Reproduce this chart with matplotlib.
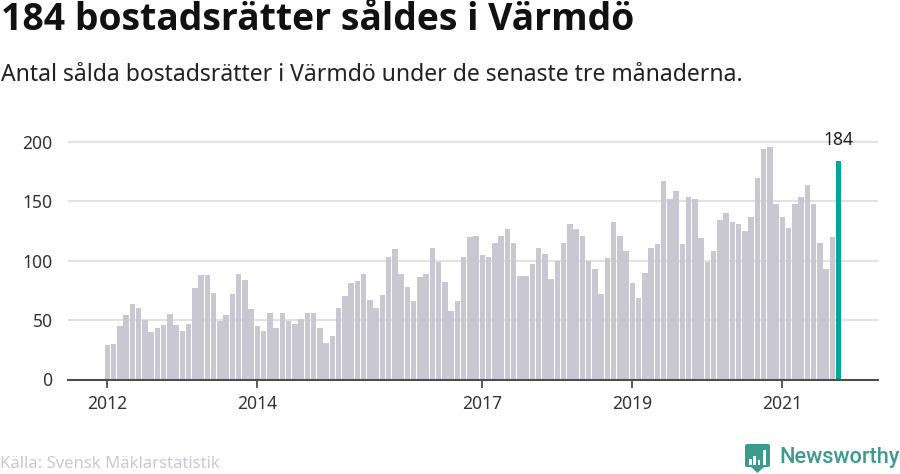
import matplotlib
matplotlib.use('Agg')
import matplotlib.pyplot as plt
from matplotlib.patches import Polygon, Rectangle, FancyBboxPatch

plt.rcParams['font.family'] = ['Noto Sans', 'DejaVu Sans']

# sålda bostadsrätter per månad, jan 2012 - okt 2021
values = [29, 30, 45, 54, 64, 60, 50, 40, 43, 46, 55, 46,
          41, 47, 77, 88, 88, 73, 49, 54, 72, 89, 84, 59,
          45, 41, 56, 43, 56, 49, 47, 51, 56, 56, 43, 31,
          37, 60, 70, 81, 83, 89, 67, 60, 71, 103, 110, 89,
          78, 66, 86, 89, 111, 99, 82, 58, 66, 103, 120, 121,
          105, 103, 115, 121, 127, 115, 87, 87, 97, 111, 106, 85,
          100, 115, 131, 127, 121, 100, 93, 72, 102, 133, 121, 108,
          81, 69, 90, 111, 114, 167, 152, 159, 114, 154, 152, 119,
          99, 108, 134, 140, 133, 131, 125, 137, 170, 194, 196, 148,
          137, 128, 148, 154, 164, 148, 115, 93, 120, 184]
tick_years = [2012, 2014, 2017, 2019, 2021]
yticks = [0, 50, 100, 150, 200]
first_year = 2012

W, H = 900, 474
GREY = '#c8c7d2'
TEAL = '#00a698'
DARK = '#333333'

fig = plt.figure(figsize=(W / 100, H / 100), dpi=100)
fig.patch.set_facecolor('white')

# axes placerad i pixlar: x 68-878, y-noll vid 379.5
ax = fig.add_axes([68 / W, (H - 379.5) / H, 810 / W, 259.5 / H])
x = list(range(len(values)))
colors = [GREY] * (len(values) - 1) + [TEAL]
ax.bar(x, values, width=0.86, color=colors, linewidth=0, zorder=2)

ax.set_xlim(-6.3, 123.3)
ax.set_ylim(0, 200 * 259.5 / 237.5)
ax.set_yticks(yticks)
ax.set_xticks([(y - first_year) * 12 for y in tick_years])
ax.set_xticklabels([str(y) for y in tick_years])
ax.grid(axis='y', color='#e2e2e2', linewidth=1.5, zorder=1)
ax.set_axisbelow(True)
ax.tick_params(axis='y', length=0, pad=11, labelsize=12.6, labelcolor=DARK)
ax.tick_params(axis='x', length=6, width=1.3, color='#4d4d4d', pad=5.5, labelsize=12.6, labelcolor=DARK)
for s in ['top', 'left', 'right']:
    ax.spines[s].set_visible(False)
ax.spines['bottom'].set_color('#4d4d4d')
ax.spines['bottom'].set_linewidth(1.5)
ax.spines['bottom'].set_zorder(5)

ax.annotate(str(values[-1]), (x[-1] - 0.1, values[-1]), xytext=(0, 8.6), textcoords='offset points',
            ha='center', va='bottom', fontsize=12.6, color='#222222', zorder=6)

fig.text(1 / W, 1 - 30 / H, '184 bostadsrätter såldes i Värmdö', fontsize=26.9, fontweight='bold',
         family=['Open Sans', 'DejaVu Sans'], color='#111111', ha='left', va='baseline')
fig.text(1 / W, 1 - 81 / H, 'Antal sålda bostadsrätter i Värmdö under de senaste tre månaderna.',
         fontsize=16.5, color='#222222', ha='left', va='baseline')
fig.text(0 / W, 1 - 468 / H, 'Källa: Svensk Mäklarstatistik', fontsize=12, color='#c9c9d2',
         ha='left', va='baseline')

# logotyp, ritad i pixelkoordinater
logo = fig.add_axes([0, 0, 1, 1], facecolor='none')
logo.set_xlim(0, W)
logo.set_ylim(H, 0)
logo.axis('off')
LOGO = '#3d9a8f'
logo.add_patch(FancyBboxPatch((745, 444), 25, 23, boxstyle='round,pad=0,rounding_size=2',
                              facecolor=LOGO, edgecolor='none'))
logo.add_patch(Polygon([[750, 466], [765, 466], [757.5, 473]], closed=True, facecolor=LOGO, edgecolor='none'))
for bx, by, bh in [(749, 459, 6), (753, 456, 9), (757.5, 460, 5), (763, 450, 15)]:
    logo.add_patch(Rectangle((bx, by), 2.6, bh, facecolor='white', edgecolor='none'))
logo.text(779, 463, 'Newsworthy', fontsize=15.7, color=LOGO, family=['Roboto', 'DejaVu Sans'],
          fontweight='medium', ha='left', va='baseline')

fig.savefig('out.png', dpi=100)
